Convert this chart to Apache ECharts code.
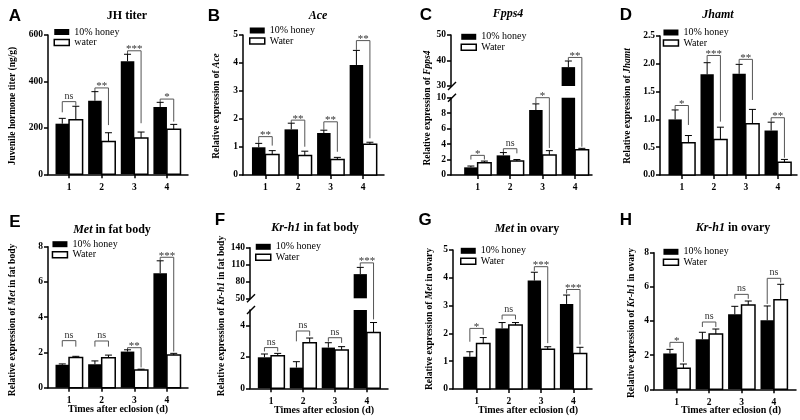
<!DOCTYPE html>
<html>
<head>
<meta charset="utf-8">
<script src="https://cdn.jsdelivr.net/npm/echarts@6/dist/echarts.min.js"></script>
<style>
  html, body { margin: 0; padding: 0; background: #fff; }
  #chart { width: 800px; height: 420px; }
</style>
</head>
<body>
<div id="chart"></div>
<script>
const days = [1, 2, 3, 4];

// A  JH titer (ng/g) -- bar value, top of error bar, bracket
const jhHoney = [218, 317, 487, 290];
const jhHoneyTop = [241, 356, 517, 310];
const jhWater = [235, 141, 156, 194];
const jhWaterTop = [293, 179, 182, 215];
const jhSig = ['ns', '**', '***', '*'];
const jhSigY = [313, 372, 532, 324];
const jhLegL = [267, 356, 517, 310];
const jhLegR = [296, 212, 220, 227];
const jhTicks = [0, 200, 400, 600];

// B  Ace
const aceHoney = [0.99, 1.63, 1.50, 3.93];
const aceHoneyTop = [1.13, 1.85, 1.60, 4.45];
const aceWater = [0.73, 0.70, 0.55, 1.10];
const aceWaterTop = [0.87, 0.85, 0.63, 1.17];
const aceSig = ['**', '**', '**', '**'];
const aceSigY = [1.37, 1.96, 1.90, 4.80];
const aceLegL = [1.15, 1.86, 1.62, 4.47];
const aceLegR = [1.05, 1.01, 0.83, 1.31];
const aceTicks = [0, 1, 2, 3, 4, 5];

// C  Fpps4 (broken axis)
const fppsHoney = [0.99, 2.54, 8.4, 37.4];
const fppsHoneyTop = [1.16, 2.9, 9.2, 39.8];
const fppsWater = [1.6, 1.8, 2.6, 3.28];
const fppsWaterTop = [1.8, 2.0, 3.15, 3.45];
const fppsSig = ['*', 'ns', '*', '**'];
const fppsSigY = [2.54, 3.4, 10, 41.2];
const fppsLegL = [2.0, 2.8, 9.3, 40.0];
const fppsLegR = [2.0, 2.8, 3.5, 3.66];
const fppsLowTicks = [0, 2, 4, 6, 8, 10];
const fppsHighTicks = [30, 40, 50];

// D  Jhamt
const jhamtHoney = [1.0, 1.81, 1.82, 0.80];
const jhamtHoneyTop = [1.17, 2.02, 1.99, 0.95];
const jhamtWater = [0.58, 0.64, 0.92, 0.23];
const jhamtWaterTop = [0.71, 0.86, 1.18, 0.28];
const jhamtSig = ['*', '***', '**', '**'];
const jhamtSigY = [1.25, 2.15, 2.08, 1.03];
const jhamtLegL = [1.18, 2.03, 2.0, 0.96];
const jhamtLegR = [0.9, 0.96, 1.35, 0.31];
const jhamtTicks = [0, 0.5, 1, 1.5, 2, 2.5];

// E  Met in fat body
const metFatHoney = [1.3, 1.33, 2.05, 6.5];
const metFatHoneyTop = [1.35, 1.52, 2.15, 7.2];
const metFatWater = [1.72, 1.7, 1.0, 1.85];
const metFatWaterTop = [1.78, 1.85, 1.05, 1.95];
const metFatSig = ['ns', 'ns', '**', '***'];
const metFatSigY = [2.67, 2.65, 2.27, 7.4];
const metFatLegL = [2.33, 2.33, 2.15, 7.22];
const metFatLegR = [2.33, 2.33, 1.15, 2.05];
const metFatTicks = [0, 2, 4, 6, 8];

// F  Kr-h1 in fat body (broken axis)
const krFatHoney = [1.98, 1.32, 2.6, 93];
const krFatHoneyTop = [2.19, 1.70, 2.91, 105];
const krFatWater = [2.08, 2.91, 2.45, 3.57];
const krFatWaterTop = [2.23, 3.21, 2.66, 4.2];
const krFatSig = ['ns', 'ns', 'ns', '***'];
const krFatSigY = [2.6, 3.66, 3.23, 113];
const krFatLegL = [2.35, 3.0, 2.98, 106];
const krFatLegR = [2.35, 3.35, 2.9, 4.4];
const krFatLowTicks = [0, 2, 4];
const krFatHighTicks = [50, 80, 110, 140];

// G  Met in ovary
const metOvHoney = [1.16, 2.18, 3.9, 3.06];
const metOvHoneyTop = [1.34, 2.39, 4.2, 3.38];
const metOvWater = [1.64, 2.30, 1.43, 1.28];
const metOvWaterTop = [1.85, 2.39, 1.52, 1.5];
const metOvSig = ['*', 'ns', '***', '***'];
const metOvSigY = [2.18, 2.66, 4.4, 3.58];
const metOvLegL = [1.7, 2.5, 4.25, 3.43];
const metOvLegR = [1.95, 2.5, 1.65, 1.6];
const metOvTicks = [0, 1, 2, 3, 4, 5];

// H  Kr-h1 in ovary
const krOvHoney = [2.1, 2.93, 4.39, 4.04];
const krOvHoneyTop = [2.34, 3.34, 4.86, 4.88];
const krOvWater = [1.23, 3.24, 4.94, 5.25];
const krOvWaterTop = [1.48, 3.53, 5.17, 6.15];
const krOvSig = ['*', 'ns', 'ns', 'ns'];
const krOvSigY = [2.75, 3.94, 5.56, 6.5];
const krOvLegL = [2.45, 3.65, 5.3, 5.0];
const krOvLegR = [1.6, 3.65, 5.3, 6.25];
const krOvTicks = [0, 2, 4, 6, 8];

const SERIF = '"Liberation Serif", "Times New Roman", serif';
const BAR_W = 0.415;
const int = v => String(v);

const panels = [
  { honey: jhHoney, honeyTop: jhHoneyTop, water: jhWater, waterTop: jhWaterTop, sig: jhSig, sigY: jhSigY, legL: jhLegL, legR: jhLegR,
    waterName: 'water', left: 48, width: 140, xMin: 0.355, xMax: 4.645, legend: [53.5, 27], fmt: int,
    segs: [{ top: 35, height: 139.3, min: 0, max: 600, ticks: jhTicks }] },
  { honey: aceHoney, honeyTop: aceHoneyTop, water: aceWater, waterTop: aceWaterTop, sig: aceSig, sigY: aceSigY, legL: aceLegL, legR: aceLegR,
    waterName: 'Water', left: 243, width: 141, xMin: 0.31, xMax: 4.64, legend: [249, 25.5], fmt: int,
    segs: [{ top: 35, height: 140, min: 0, max: 5, ticks: aceTicks }] },
  { honey: fppsHoney, honeyTop: fppsHoneyTop, water: fppsWater, waterTop: fppsWaterTop, sig: fppsSig, sigY: fppsSigY, legL: fppsLegL, legR: fppsLegR,
    waterName: 'Water', left: 451, width: 141, xMin: 0.18, xMax: 4.52, legend: [460.5, 31.8], fmt: int,
    segs: [{ top: 97.7, height: 77.3, min: 0, max: 10, ticks: fppsLowTicks },
           { top: 35, height: 51, min: 30, max: 50, ticks: fppsHighTicks }] },
  { honey: jhamtHoney, honeyTop: jhamtHoneyTop, water: jhamtWater, waterTop: jhamtWaterTop, sig: jhamtSig, sigY: jhamtSigY, legL: jhamtLegL, legR: jhamtLegR,
    waterName: 'Water', left: 660, width: 137, xMin: 0.32, xMax: 4.6, legend: [662.7, 27.5], fmt: v => v.toFixed(1),
    segs: [{ top: 36, height: 139, min: 0, max: 2.5, ticks: jhamtTicks }] },
  { honey: metFatHoney, honeyTop: metFatHoneyTop, water: metFatWater, waterTop: metFatWaterTop, sig: metFatSig, sigY: metFatSigY, legL: metFatLegL, legR: metFatLegR,
    waterName: 'Water', left: 48, width: 140, xMin: 0.355, xMax: 4.645, legend: [51.7, 239.2], fmt: int,
    segs: [{ top: 246.7, height: 141, min: 0, max: 8, ticks: metFatTicks }] },
  { honey: krFatHoney, honeyTop: krFatHoneyTop, water: krFatWater, waterTop: krFatWaterTop, sig: krFatSig, sigY: krFatSigY, legL: krFatLegL, legR: krFatLegR,
    waterName: 'Water', left: 250, width: 138, xMin: 0.34, xMax: 4.66, legend: [255, 241.8], fmt: int,
    segs: [{ top: 310, height: 78.3, min: 0, max: 5, ticks: krFatLowTicks },
           { top: 247.7, height: 50.6, min: 50, max: 140, ticks: krFatHighTicks }] },
  { honey: metOvHoney, honeyTop: metOvHoneyTop, water: metOvWater, waterTop: metOvWaterTop, sig: metOvSig, sigY: metOvSigY, legL: metOvLegL, legR: metOvLegR,
    waterName: 'Water', left: 453, width: 139, xMin: 0.27, xMax: 4.58, legend: [460, 245.8], fmt: int,
    segs: [{ top: 250, height: 139, min: 0, max: 5, ticks: metOvTicks }] },
  { honey: krOvHoney, honeyTop: krOvHoneyTop, water: krOvWater, waterTop: krOvWaterTop, sig: krOvSig, sigY: krOvSigY, legL: krOvLegL, legR: krOvLegR,
    waterName: 'Water', left: 654, width: 142, xMin: 0.3, xMax: 4.68, legend: [662.7, 246.8], fmt: int,
    segs: [{ top: 252.7, height: 136.6, min: 0, max: 8, ticks: krOvTicks }] }
];

// bar + error bar, clamped to one axis segment
function barRender(seg, side, black) {
  return function (params, api) {
    const x = api.value(0), v = api.value(1), e = api.value(2);
    const x0 = side < 0 ? x - BAR_W : x, x1 = x0 + BAR_W, xc = (x0 + x1) / 2;
    const children = [];
    if (v > seg.min) {
      const a = api.coord([x0, seg.min]), b = api.coord([x1, Math.min(v, seg.max)]);
      children.push({
        type: 'rect',
        shape: { x: a[0], y: b[1], width: b[0] - a[0], height: a[1] - b[1] },
        style: black ? { fill: '#000' } : { fill: '#fff', stroke: '#000', lineWidth: 1.5 }
      });
    }
    if (e > seg.min && v < seg.max) {
      const p0 = api.coord([xc, Math.max(v, seg.min)]), p1 = api.coord([xc, Math.min(e, seg.max)]);
      children.push({ type: 'line', shape: { x1: p0[0], y1: p0[1], x2: p1[0], y2: p1[1] }, style: { stroke: '#000', lineWidth: 1 } });
      if (e <= seg.max) {
        children.push({ type: 'line', shape: { x1: p1[0] - 3.5, y1: p1[1], x2: p1[0] + 3.5, y2: p1[1] }, style: { stroke: '#000', lineWidth: 1 } });
      }
    }
    return { type: 'group', children: children };
  };
}

const grid = [], xAxis = [], yAxis = [], series = [];
const axisLine = { show: true, lineStyle: { color: '#000', width: 1.5 } };
const tickLabel = { color: '#000', fontFamily: SERIF, fontWeight: 'bold', fontSize: 9.5 };

panels.forEach(p => {
  p.grids = [];
  p.segs.forEach((s, k) => {
    const gi = grid.length;
    p.grids.push(gi);
    grid.push({ left: p.left, top: s.top, width: p.width, height: s.height, containLabel: false, outerBoundsMode: 'none' });
    xAxis.push({
      type: 'value', gridIndex: gi, min: p.xMin, max: p.xMax, show: k === 0,
      axisLine: axisLine, splitLine: { show: false },
      axisTick: { show: true, customValues: days, length: 4, lineStyle: { color: '#000', width: 1.5 } },
      axisLabel: Object.assign({ customValues: days, margin: 8 }, tickLabel)
    });
    yAxis.push({
      type: 'value', gridIndex: gi, min: s.min, max: s.max,
      axisLine: axisLine, splitLine: { show: false },
      axisTick: { show: true, customValues: s.ticks, length: 4, lineStyle: { color: '#000', width: 1.5 } },
      axisLabel: Object.assign({ customValues: s.ticks, margin: 5, formatter: p.fmt }, tickLabel)
    });
    series.push({
      type: 'custom', name: '10% honey', xAxisIndex: gi, yAxisIndex: gi, clip: false, silent: true,
      itemStyle: { color: '#000' },
      data: days.map((d, i) => [d, p.honey[i], p.honeyTop[i]]),
      renderItem: barRender(s, -1, true)
    });
    series.push({
      type: 'custom', name: p.waterName, xAxisIndex: gi, yAxisIndex: gi, clip: false, silent: true,
      itemStyle: { color: '#fff', borderColor: '#000', borderWidth: 1.5 },
      data: days.map((d, i) => [d, p.water[i], p.waterTop[i]]),
      renderItem: barRender(s, 1, false)
    });
  });
});

const legend = panels.map(p => ({
  left: p.legend[0], top: p.legend[1], padding: 0, orient: 'vertical', icon: 'rect',
  itemWidth: 15, itemHeight: 6, itemGap: 0.5, selectedMode: false,
  textStyle: { fontFamily: SERIF, fontSize: 10, color: '#000', lineHeight: 10 },
  data: [
    { name: '10% honey', itemStyle: { color: '#000', borderWidth: 0 } },
    { name: p.waterName, itemStyle: { color: '#fff', borderColor: '#000', borderWidth: 1.5 } }
  ]
}));

function label(txt, x, y, size, rot) {
  const base = { fontFamily: SERIF, fontSize: size, fontWeight: 'bold', fill: '#000', color: '#000' };
  return {
    type: 'text', x: x, y: y, rotation: rot || 0, silent: true,
    style: {
      text: txt, align: 'center', verticalAlign: 'middle', textAlign: 'center', textVerticalAlign: 'middle',
      fontFamily: SERIF, fontSize: size, fontWeight: 'bold', fill: '#000',
      rich: { n: base, i: Object.assign({}, base, { fontStyle: 'italic' }) }
    }
  };
}

const letters = [['A', 15, 16], ['B', 214, 16], ['C', 426, 15], ['D', 626, 15],
                 ['E', 15, 222], ['F', 220, 220], ['G', 425, 220], ['H', 626, 220]];
const texts = letters.map(l => ({
  type: 'text', x: l[1], y: l[2], silent: true,
  style: { text: l[0], align: 'center', verticalAlign: 'middle', textAlign: 'center', textVerticalAlign: 'middle',
           font: 'bold 17px "Liberation Sans", Arial, sans-serif', fill: '#000' }
}));
const R = Math.PI / 2;
const ofT = '{n|Relative expression of }';
texts.push(
  label('{n|JH titer}', 127, 16, 12), label('{i|Ace}', 318, 16, 12),
  label('{i|Fpps4}', 508, 14, 12), label('{i|Jhamt}', 718, 15, 12),
  label('{i|Met}{n| in fat body}', 112, 230, 12), label('{i|Kr-h1}{n| in fat body}', 315, 228, 12),
  label('{i|Met}{n| in ovary}', 527, 229, 12), label('{i|Kr-h1}{n| in ovary}', 733, 228, 12),
  label('{n|Juvenile hormone titer (ng/g)}', 13, 106, 9.5, R), label(ofT + '{i|Ace}', 217, 106, 9.5, R),
  label(ofT + '{i|Fpps4}', 428, 108, 9.5, R), label(ofT + '{i|Jhamt}', 628, 106, 9.5, R),
  label(ofT + '{i|Met}{n| in fat body}', 13, 320, 9.5, R), label(ofT + '{i|Kr-h1}{n| in fat body}', 222, 316, 9.5, R),
  label(ofT + '{i|Met}{n| in ovary}', 430, 319, 9.5, R), label(ofT + '{i|Kr-h1}{n| in ovary}', 632, 323, 9.5, R),
  label('{n|Times after eclosion (d)}', 118, 409, 10), label('{n|Times after eclosion (d)}', 324, 410, 10),
  label('{n|Times after eclosion (d)}', 528, 410, 10), label('{n|Times after eclosion (d)}', 731, 410, 10)
);

const chart = echarts.init(document.getElementById('chart'));
chart.setOption({
  animation: false,
  backgroundColor: '#fff',
  grid: grid, xAxis: xAxis, yAxis: yAxis, legend: legend, series: series
});

// significance brackets and axis-break marks, placed through the axes
const marks = [];
panels.forEach(p => {
  const toPx = (x, v) => {
    const k = p.segs.length > 1 && v > p.segs[0].max ? 1 : 0;
    return chart.convertToPixel({ gridIndex: p.grids[k] }, [x, v]);
  };
  days.forEach((d, i) => {
    const top = toPx(d - BAR_W / 2, p.sigY[i]);
    const l = toPx(d - BAR_W / 2, p.legL[i]);
    const r = toPx(d + BAR_W / 2, p.legR[i]);
    marks.push({
      type: 'polyline', silent: true,
      shape: { points: [[l[0], l[1]], [l[0], top[1]], [r[0], top[1]], [r[0], r[1]]] },
      style: { stroke: '#555', lineWidth: 1, fill: null }
    });
    const star = p.sig[i] !== 'ns';
    marks.push({
      type: 'text', silent: true, x: (l[0] + r[0]) / 2, y: top[1] - (star ? 1.5 : 5.5),
      style: { text: p.sig[i], align: 'center', verticalAlign: 'middle', textAlign: 'center', textVerticalAlign: 'middle',
               font: (star ? '11px ' : '10px ') + SERIF, fill: '#333' }
    });
  });
  if (p.segs.length > 1) {
    const a = chart.convertToPixel({ gridIndex: p.grids[0] }, [p.xMin, p.segs[0].max]);
    const b = chart.convertToPixel({ gridIndex: p.grids[1] }, [p.xMin, p.segs[1].min]);
    [a, b].forEach(pt => marks.push({
      type: 'line', silent: true,
      shape: { x1: pt[0] - 3, y1: pt[1] + 4, x2: pt[0] + 5, y2: pt[1] - 4 },
      style: { stroke: '#000', lineWidth: 1.5 }
    }));
  }
});
chart.setOption({ graphic: texts.concat(marks) });
</script>
</body>
</html>
